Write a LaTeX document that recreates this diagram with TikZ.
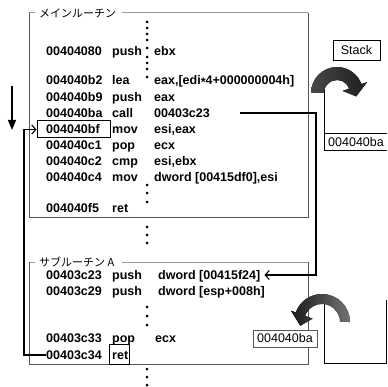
\documentclass[tikz,border=0pt]{standalone}
\usepackage{fontspec}
\setmainfont{Liberation Sans}
\newfontfamily\jpfont{Noto Sans CJK JP}
\usetikzlibrary{arrows.meta}
\definecolor{frametop}{HTML}{999999}
\definecolor{frameside}{HTML}{555555}

\begin{document}
\begin{tikzpicture}[x=1pt,y=-1pt,
  code/.style={anchor=west,inner sep=0pt,text height=9pt,text depth=0pt,
    font=\fontsize{12.5}{14}\selectfont\bfseries},
  plain/.style={inner sep=0pt,font=\fontsize{12.5}{14}\selectfont},
  grouplabel/.style={anchor=west,inner sep=0pt,font=\jpfont\fontsize{11}{13}\selectfont},
  topline/.style={frametop,line width=1pt},
  sideline/.style={frameside,line width=1pt},
  hilite/.style={draw=black,line width=1pt,inner sep=0pt},
  wire/.style={line width=1.2pt},
  openhead/.style={wire,-{Straight Barb[length=4pt,width=9pt,line width=1.1pt]}},
  dot/.style={black},
]
\useasboundingbox (0,0) rectangle (387,387);

% ---------- main routine frame ----------
\draw[topline] (35,13) -- (29,13);
\draw[topline] (122,13) -- (308,13);
\draw[sideline] (29,13) -- (29,217) -- (308,217) -- (308,13);
\node[grouplabel] (mainlbl) at (39,13) {メインルーチン};

% ---------- subroutine frame ----------
\draw[topline] (35,262) -- (29,262);
\draw[topline] (122,262) -- (308,262);
\draw[sideline] (29,262) -- (29,364) -- (308,364) -- (308,262);
\node[grouplabel] (sublbl) at (39,262) {サブルーチン A};

% ---------- main routine listing ----------
\node[code] (m1a) at (46,51)  {00404080}; \node[code] (m1o) at (112,51)  {push}; \node[code] (m1p) at (154,51)  {ebx};
\node[code] (m2a) at (46,80)  {004040b2}; \node[code] (m2o) at (112,80)  {lea};  \node[code] (m2p) at (154,80)  {eax,[edi\raisebox{-2.5pt}{*}4+000000004h]};
\node[code] (m3a) at (46,97)  {004040b9}; \node[code] (m3o) at (112,97)  {push}; \node[code] (m3p) at (154,97)  {eax};
\node[code] (m4a) at (46,113) {004040ba}; \node[code] (m4o) at (112,113) {call}; \node[code] (m4p) at (154,113) {00403c23};
\node[code] (m5a) at (46,129) {004040bf}; \node[code] (m5o) at (112,129) {mov};  \node[code] (m5p) at (154,129) {esi,eax};
\node[code] (m6a) at (46,145) {004040c1}; \node[code] (m6o) at (112,145) {pop};  \node[code] (m6p) at (154,145) {ecx};
\node[code] (m7a) at (46,161) {004040c2}; \node[code] (m7o) at (112,161) {cmp};  \node[code] (m7p) at (154,161) {esi,ebx};
\node[code] (m8a) at (46,177) {004040c4}; \node[code] (m8o) at (112,177) {mov};  \node[code] (m8p) at (154,177) {dword [00415df0],esi};
\node[code] (m9a) at (46,208) {004040f5}; \node[code] (m9o) at (112,208) {ret};

% return address highlighted
\node[hilite,minimum width=73pt,minimum height=17pt] (retaddr) at (73.5,129.5) {};

% ---------- subroutine listing ----------
\node[code] (s1a) at (46,275) {00403c23}; \node[code] (s1o) at (112,275) {push}; \node[code] (s1p) at (158,275) {dword [00415f24]};
\node[code] (s2a) at (46,291) {00403c29}; \node[code] (s2o) at (112,291) {push}; \node[code] (s2p) at (158,291) {dword [esp+008h]};
\node[code] (s3a) at (46,338) {00403c33}; \node[code] (s3o) at (112,338) {pop};  \node[code] (s3p) at (155,338) {ecx};
\node[code] (s4a) at (46,355) {00403c34}; \node[code] (s4o) at (112,355) {ret};
\node[hilite,minimum width=20pt,minimum height=20pt] (retbox) at (119,354) {};

% ---------- elision dots ----------
\foreach \y in {22,28,34,40,48,57,63,69,77,185,193,202,227,235,243,307,316,325,369,377,385}
  \fill[dot] (147,\y) circle (1.5pt);

% ---------- execution direction ----------
\coordinate (flowtop) at (12,86);
\coordinate (flowbot) at (12,130);
\draw[wire,-{Triangle[length=10pt,width=8pt]}] (flowtop) -- (flowbot);

% ---------- call: jump into the subroutine ----------
\coordinate (calljog) at (316,113);
\draw[openhead,shorten <=30pt] (m4p.east) -- (calljog) |- ([xshift=4pt]s1p.east);

% ---------- ret: back to the return address ----------
\coordinate (retjog) at (24,355);
\draw[openhead] (s4a.west) -- (retjog) |- (retaddr.west);

% ---------- stack (after call) ----------
\node[draw=black,line width=0.8pt,minimum width=47pt,minimum height=20pt,plain] (stacklbl) at (356.5,50) {Stack};
\draw[line width=1pt] (324,89) -- (324,151) -- (387,151);
\draw[line width=1pt] (324,134) -- (387,134);
\node[plain,anchor=west] (pushed) at (328,142.5) {004040ba};
\fill[left color=black!72,middle color=black!55,right color=black!88]
  (311,93) arc[start angle=180,end angle=340,radius=26]
  -- (367.1,82.1) -- (356.2,96.4) -- (342.6,90.9) -- (349.2,88.55)
  arc[start angle=340,end angle=180,radius=13] -- cycle;

% ---------- stack (at ret) ----------
\draw[line width=1pt] (324,302) -- (324,363) -- (386,363) -- (386,300);
\fill[left color=black!90,middle color=black!72,right color=black!55]
  (350,322) arc[start angle=0,end angle=-160,radius=28]
  -- (291.0,310.7) -- (300.3,325.8) -- (312.6,318.6) -- (305.1,315.8)
  arc[start angle=-160,end angle=0,radius=18] -- cycle;
\node[draw=frameside,fill=white,line width=0.8pt,minimum width=64pt,minimum height=17pt,plain] (popped) at (285,338.5) {004040ba};
\end{tikzpicture}
\end{document}
